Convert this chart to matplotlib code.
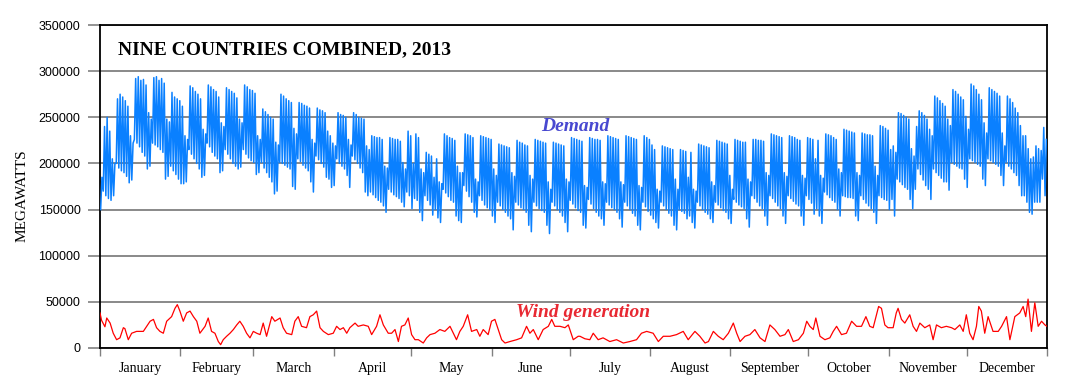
import numpy as np
import matplotlib
matplotlib.use("Agg")
import matplotlib.pyplot as plt

# ---------------- data ----------------
months = ["January", "February", "March", "April", "May", "June", "July",
          "August", "September", "October", "November", "December"]
month_days = [31, 28, 31, 30, 31, 30, 31, 31, 30, 31, 30, 31]

# daily demand maxima (thousand MW), rows = weeks Mon..Sun (first row starts Tue 1 Jan)
demand_max_k = [
    185, 240, 250, 235, 205, 200,
    270, 275, 272, 268, 262, 230, 222,
    292, 294, 290, 291, 285, 255, 248,
    293, 294, 290, 292, 287, 248, 245,
    277, 272, 270, 268, 262, 230, 226,
    284, 282, 278, 275, 270, 237, 232,
    285, 283, 280, 278, 272, 244, 240,
    282, 280, 278, 276, 271, 248, 244,
    285, 283, 280, 279, 276, 230, 226,
    259, 256, 253, 250, 248, 223, 220,
    275, 273, 270, 268, 266, 238, 232,
    266, 265, 263, 262, 260, 226, 222,
    260, 258, 257, 255, 235, 230, 222,
    219, 255, 253, 252, 250, 226, 220,
    255, 253, 250, 249, 248, 219, 215,
    230, 229, 228, 228, 226, 197, 195,
    228, 227, 226, 226, 224, 201, 194,
    235, 230, 200, 232, 228, 194, 190,
    212, 210, 208, 185, 205, 180, 178,
    232, 230, 228, 227, 225, 197, 190,
    190, 232, 231, 230, 228, 183, 180,
    230, 229, 228, 227, 226, 194, 187,
    221, 220, 219, 218, 217, 190, 186,
    225, 223, 222, 220, 219, 187, 183,
    226, 225, 224, 223, 222, 180, 172,
    223, 222, 221, 220, 219, 183, 180,
    228, 227, 226, 225, 224, 176, 174,
    228, 227, 226, 226, 225, 180, 178,
    230, 229, 228, 227, 226, 180, 177,
    230, 229, 228, 227, 226, 176, 174,
    230, 228, 226, 220, 215, 172, 170,
    219, 218, 217, 216, 215, 183, 172,
    215, 214, 213, 185, 212, 172, 170,
    221, 220, 219, 218, 217, 180, 176,
    225, 224, 223, 222, 221, 187, 172,
    226, 225, 224, 223, 223, 183, 180,
    226, 226, 225, 225, 224, 190, 187,
    232, 231, 230, 229, 228, 190, 186,
    230, 229, 228, 226, 225, 187, 184,
    228, 227, 226, 205, 225, 187, 184,
    232, 231, 230, 228, 226, 194, 190,
    237, 236, 235, 234, 233, 190, 187,
    233, 232, 231, 231, 230, 197, 187,
    241, 240, 238, 236, 215, 219, 212,
    255, 254, 252, 250, 248, 216, 208,
    240, 257, 255, 252, 248, 237, 230,
    273, 271, 268, 265, 262, 248, 241,
    280, 278, 275, 272, 269, 251, 237,
    286, 284, 280, 275, 269, 244, 233,
    282, 280, 278, 276, 273, 233, 219,
    273, 270, 266, 260, 255, 241, 230,
    230, 216, 205, 207, 219, 216, 214,
    239, 226,
]

# daily demand minima (thousand MW)
demand_min_k = [
    150, 170, 165, 162, 160, 165,
    200, 195, 192, 190, 186, 179, 182,
    226, 222, 218, 212, 208, 194, 197,
    222, 220, 218, 215, 212, 183, 186,
    197, 192, 188, 183, 178, 178, 180,
    215, 210, 205, 200, 194, 185, 187,
    222, 218, 212, 208, 205, 190, 192,
    215, 210, 205, 200, 197, 194, 196,
    215, 210, 206, 203, 201, 188, 190,
    201, 195, 190, 185, 180, 167, 170,
    201, 200, 198, 196, 194, 175, 172,
    205, 202, 198, 195, 192, 180, 169,
    208, 204, 200, 196, 185, 183, 174,
    176, 205, 200, 197, 194, 187, 174,
    208, 204, 200, 195, 190, 169, 165,
    169, 166, 163, 160, 158, 154, 147,
    172, 169, 166, 164, 162, 158, 153,
    169, 165, 151, 162, 160, 147, 138,
    165, 160, 155, 144, 150, 141, 136,
    172, 168, 164, 160, 158, 143, 138,
    136, 176, 170, 164, 158, 147, 142,
    165, 160, 155, 152, 150, 143, 136,
    158, 154, 150, 147, 143, 140, 128,
    158, 155, 152, 150, 147, 133, 126,
    158, 154, 151, 149, 147, 133, 124,
    158, 154, 150, 147, 143, 136, 126,
    160, 156, 152, 149, 147, 133, 130,
    161, 156, 151, 147, 143, 140, 133,
    158, 155, 152, 150, 147, 140, 131,
    158, 154, 150, 146, 143, 133, 128,
    158, 153, 148, 144, 140, 136, 130,
    158, 154, 150, 146, 143, 133, 128,
    150, 148, 146, 140, 143, 136, 130,
    158, 154, 150, 147, 145, 140, 136,
    158, 155, 152, 149, 147, 140, 135,
    161, 158, 155, 153, 151, 140, 131,
    165, 162, 158, 154, 151, 143, 133,
    165, 162, 158, 154, 151, 143, 135,
    165, 162, 159, 156, 154, 143, 133,
    165, 161, 157, 145, 151, 143, 135,
    169, 166, 163, 160, 158, 150, 143,
    165, 164, 163, 163, 162, 143, 138,
    165, 161, 157, 154, 151, 147, 135,
    165, 163, 161, 160, 150, 161, 143,
    183, 180, 177, 174, 172, 161, 151,
    172, 194, 188, 182, 176, 172, 161,
    194, 190, 187, 184, 180, 180, 171,
    201, 199, 197, 195, 194, 183, 174,
    205, 203, 201, 199, 197, 183, 176,
    205, 203, 201, 199, 197, 187, 176,
    201, 197, 194, 190, 187, 176, 165,
    165, 158, 147, 145, 158, 158, 158,
    183, 165,
]

# wind generation readings: day of year and MW
wind_day = [
    0.0, 0.6, 1.9, 2.6, 3.9, 5.1, 6.4, 7.7, 9.0, 9.6, 10.9, 12.2, 14.1, 16.7,
    18.0, 19.3, 20.6, 21.8, 23.1, 24.4, 25.7, 27.6, 28.9, 29.8, 30.8, 32.1,
    33.4, 34.7, 36.0, 37.3, 38.5, 40.5, 41.7, 43.0, 44.3, 45.6, 46.5, 47.5,
    48.8, 50.1, 51.4, 52.7, 53.9, 55.2, 56.5, 57.8, 59.1, 60.4, 61.7, 62.9,
    64.2, 66.2, 67.4, 69.4, 70.6, 71.9, 73.9, 75.1, 76.4, 77.7, 79.6, 80.9,
    82.2, 83.5, 84.8, 86.1, 88.0, 89.9, 91.2, 92.5, 93.8, 95.1, 96.3, 98.3,
    99.5, 101.5, 103.4, 104.7, 106.6, 107.9, 109.2, 111.1, 112.4, 113.7,
    115.0, 116.2, 117.5, 118.8, 120.1, 121.4, 122.7, 124.6, 125.9, 127.2,
    129.1, 131.0, 132.9, 134.9, 136.2, 137.4, 138.7, 140.0, 141.7, 143.2,
    145.2, 146.4, 147.7, 149.6, 150.9, 152.2, 153.5, 154.8, 156.1, 158.0,
    160.6, 162.5, 164.4, 165.7, 167.0, 168.9, 170.8, 172.8, 174.1, 175.3,
    177.3, 179.2, 180.5, 182.4, 184.3, 185.0, 186.9, 188.8, 190.1, 192.0,
    193.9, 196.5, 199.1, 201.7, 204.2, 206.8, 208.7, 210.7, 213.2, 215.2,
    217.1, 219.7, 222.2, 224.8, 226.7, 229.3, 231.2, 233.2, 234.5, 236.4,
    238.3, 240.2, 242.2, 244.1, 245.4, 246.7, 248.6, 250.5, 252.4, 254.4,
    256.3, 258.2, 260.1, 262.1, 264.0, 265.3, 267.2, 269.2, 271.1, 272.4,
    273.6, 274.9, 275.9, 277.5, 279.4, 281.3, 282.6, 283.9, 285.8, 287.7,
    289.7, 291.6, 293.5, 295.2, 296.7, 298.0, 299.3, 300.1, 301.2, 302.5,
    303.7, 305.7, 306.9, 307.6, 308.9, 310.2, 312.1, 313.4, 314.7, 316.0,
    317.9, 319.8, 321.1, 322.4, 324.3, 326.2, 328.2, 329.5, 331.4, 332.7,
    333.9, 335.2, 336.5, 337.8, 338.7, 339.7, 341.0, 342.3, 344.2, 346.2,
    347.5, 349.4, 350.7, 352.6, 354.5, 355.8, 356.8, 357.7, 359.0, 360.3,
    361.6, 362.9, 364.2, 365.0,
]
wind_mw = [
    38000, 30000, 23000, 32500, 27000, 16000, 9000, 11000, 22000, 21000, 9000,
    16000, 18000, 18000, 23500, 29000, 31000, 22000, 18000, 16000, 29000,
    34000, 43000, 47000, 40000, 29000, 38000, 40000, 34000, 29000, 16000,
    23500, 32500, 18000, 16000, 7000, 3600, 9000, 12700, 16000, 20000, 25000,
    29000, 23500, 16000, 11000, 18000, 16000, 14500, 27000, 12700, 34000,
    29000, 32500, 22000, 16000, 14500, 29000, 34000, 23500, 22000, 34000,
    36000, 40000, 22000, 18000, 14500, 16000, 23500, 20000, 22000, 16000,
    22000, 27000, 23500, 25000, 23500, 14500, 23500, 36000, 25000, 16000,
    16000, 20000, 7000, 23500, 25000, 32500, 14500, 9000, 9000, 5400, 11000,
    14500, 16000, 20000, 18000, 23500, 16000, 9000, 18000, 23500, 36000,
    18000, 20000, 12700, 20000, 14500, 29000, 31000, 20000, 9000, 5400, 7000,
    9000, 11000, 23500, 16000, 20000, 9000, 20000, 23500, 31000, 23500,
    23500, 22000, 25000, 9000, 12700, 12700, 10000, 9000, 16000, 9000, 11000,
    7000, 9000, 5400, 7000, 9000, 16000, 18000, 16000, 7000, 12700, 12700,
    14500, 18000, 9000, 18000, 12700, 5400, 7000, 18000, 12700, 9000, 16000,
    27000, 16000, 7000, 12700, 14500, 20000, 11000, 7000, 25000, 20000,
    12700, 14500, 20000, 7000, 9000, 16000, 29000, 23500, 20000, 32500,
    12700, 9000, 11000, 18000, 23500, 14500, 16000, 29000, 23500, 23500,
    34000, 23500, 22000, 36000, 45000, 43000, 25000, 22000, 22000, 38000,
    43000, 31000, 27000, 36000, 23500, 18000, 27000, 22000, 25000, 9000,
    25000, 22000, 23500, 22000, 20000, 25000, 18000, 36000, 16000, 9000,
    23500, 45000, 40000, 16000, 34000, 18000, 18000, 23500, 34000, 9000,
    34000, 38000, 45000, 34000, 53000, 18000, 49000, 23500, 29000, 25000,
    23500,
]

yticks = [0, 50000, 100000, 150000, 200000, 250000, 300000, 350000]

# ---------------- figure ----------------
fig = plt.figure(figsize=(10.69, 3.89), dpi=100)
ax = fig.add_axes([100 / 1069, 1 - 348 / 389, 947 / 1069, 323 / 389])

days = np.arange(len(demand_max_k))
dmin = np.array(demand_min_k) * 1000
dmax = np.array(demand_max_k) * 1000
xs = np.column_stack([days + 0.25, days + 0.75]).ravel()
ys = np.column_stack([dmin, dmax]).ravel()
ax.plot(xs, ys, color="#0A80FF", lw=1.1, zorder=3)

ax.plot(wind_day, wind_mw, color="#FF0000", lw=0.9, zorder=3)

ax.set_xlim(0, 365)
ax.set_ylim(0, 350000)
ax.set_yticks(yticks)
ax.set_yticklabels([str(v) for v in yticks], family="Liberation Sans", fontsize=9)
ax.yaxis.grid(True, color="#808080", lw=1.3)
ax.set_axisbelow(True)
ax.tick_params(axis="y", length=9, color="#808080", width=1.2, pad=5)

starts = np.cumsum([0] + month_days)
mids = starts[:-1] + np.array(month_days) / 2
ax.set_xticks(starts)
ax.set_xticklabels([])
ax.set_xticks(mids, minor=True)
ax.set_xticklabels(months, minor=True, family="Liberation Serif", fontsize=10)
ax.tick_params(axis="x", which="major", length=6, color="#808080", width=1.0)
ax.tick_params(axis="x", which="minor", length=0, pad=10)

for s in ax.spines.values():
    s.set_color("black")
    s.set_linewidth(1.3)

fig.text(22 / 1069, 1 - 196 / 389, "MEGAWATTS", rotation=90, ha="center",
         va="center", family="Liberation Serif", fontsize=11)

ax.text(0.019, 0.924, "NINE COUNTRIES COMBINED, 2013", transform=ax.transAxes,
        family="Liberation Serif", fontweight="bold", fontsize=14,
        ha="left", va="center", zorder=5)
ax.text(0.502, 0.687, "Demand", transform=ax.transAxes, family="Liberation Serif",
        fontweight="bold", fontstyle="italic", fontsize=14, color="#4848D0",
        ha="center", va="center", zorder=5)
ax.text(0.510, 0.111, "Wind generation", transform=ax.transAxes,
        family="Liberation Serif", fontweight="bold", fontstyle="italic",
        fontsize=14, color="#E82832", ha="center", va="center", zorder=5)

fig.savefig("out.png", dpi=100)
